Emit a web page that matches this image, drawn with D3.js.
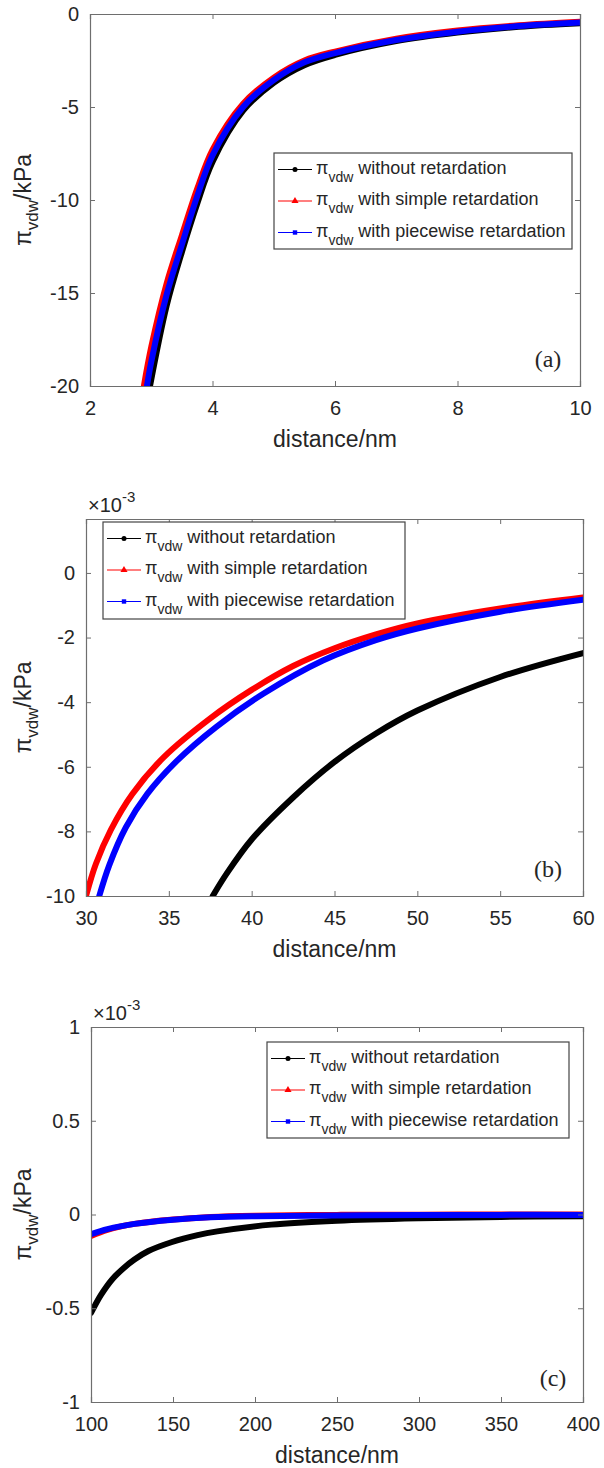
<!DOCTYPE html>
<html>
<head>
<meta charset="utf-8">
<script src="https://cdn.jsdelivr.net/npm/d3@7"></script>
<style>
  body { margin: 0; background: #fff; }
  text { font-family: Arial, "Liberation Sans", sans-serif; fill: #262626; }
</style>
</head>
<body>
<div id="chart"></div>
<script>
// ---- panel (a): distance 2-10 nm, kPa
var distA_none = [2.98, 3.25, 3.5, 3.75, 4, 4.5, 5, 5.5, 6, 7, 8, 9, 10];
var piA_none = [-20, -15.7, -12.8, -10.2, -7.95, -5.2, -3.7, -2.75, -2.2, -1.46, -1.0, -0.69, -0.5];
var distA_simple = [2.88, 3.0, 3.25, 3.5, 3.75, 4, 4.5, 5, 5.5, 6, 7, 8, 9, 10];
var piA_simple = [-20, -17.9, -14.5, -11.9, -9.4, -7.3, -4.82, -3.42, -2.5, -2.02, -1.33, -0.89, -0.61, -0.42];
var distA_piece = [2.93, 3.0, 3.25, 3.5, 3.75, 4, 4.5, 5, 5.5, 6, 7, 8, 9, 10];
var piA_piece = [-20, -18.7, -15.1, -12.4, -9.8, -7.6, -5.0, -3.55, -2.6, -2.1, -1.4, -0.95, -0.65, -0.46];
var xTicksA = [2, 4, 6, 8, 10];
var yTicksA = [0, -5, -10, -15, -20];

// ---- panel (b): distance 30-60 nm, x10^-3 kPa
var distB_none = [37.65, 38.5, 40, 42.5, 45, 47.5, 50, 55, 60];
var piB_none = [-10, -9.3, -8.25, -6.95, -5.85, -4.97, -4.26, -3.22, -2.48];
var distB_simple = [30.0, 30.6, 31.5, 32.8, 34.7, 37.5, 40, 42.5, 45, 47.5, 50, 55, 60];
var piB_simple = [-10, -9.0, -7.95, -6.84, -5.7, -4.5, -3.62, -2.88, -2.33, -1.9, -1.56, -1.1, -0.76];
var distB_piece = [30.8, 31.4, 32.4, 33.7, 35.5, 37.85, 40.7, 44.3, 47.5, 50, 55, 60];
var piB_piece = [-10, -9.05, -7.88, -6.84, -5.81, -4.77, -3.74, -2.71, -2.08, -1.72, -1.2, -0.83];
var xTicksB = [30, 35, 40, 45, 50, 55, 60];
var yTicksB = [0, -2, -4, -6, -8, -10];

// ---- panel (c): distance 100-400 nm, x10^-3 kPa
var distC_none = [100, 106, 113, 120, 126.5, 135, 149, 165, 177, 210, 250, 300, 350, 400];
var piC_none = [-0.525, -0.43, -0.345, -0.285, -0.24, -0.195, -0.148, -0.11, -0.09, -0.054, -0.033, -0.02, -0.013, -0.009];
var distC_ret = [100, 110, 126.5, 150, 173, 200, 250, 300, 350, 400];
var piC_simple = [-0.115, -0.082, -0.05, -0.027, -0.013, -0.006, -0.002, -0.001, 0, 0];
var piC_piece = [-0.105, -0.078, -0.05, -0.028, -0.015, -0.009, -0.005, -0.003, -0.002, -0.002];
var xTicksC = [100, 150, 200, 250, 300, 350, 400];
var yTicksC = [1, 0.5, 0, -0.5, -1];

var seriesNames = ["without retardation", "with simple retardation", "with piecewise retardation"];
var seriesColors = ["#000000", "#ff0000", "#0000ff"];
var seriesMarkers = ["circle", "triangle", "square"];

function zip(xs, ys) {
  return xs.map(function(x, i) { return { x: x, y: ys[i] }; });
}

var panels = [
  { id: "a", left: 90, right: 580, top: 14, bottom: 386, xDomain: [2, 10], yDomain: [-20, 0],
    xTicks: xTicksA, yTicks: yTicksA, exponent: false,
    legend: { x: 274, y: 153, w: 298, h: 96 }, tag: { x: 548, y: 367 },
    series: [zip(distA_none, piA_none), zip(distA_simple, piA_simple), zip(distA_piece, piA_piece)] },
  { id: "b", left: 86, right: 583, top: 519, bottom: 896, xDomain: [30, 60], yDomain: [-10, 1.67],
    xTicks: xTicksB, yTicks: yTicksB, exponent: true,
    legend: { x: 103, y: 522, w: 302, h: 97 }, tag: { x: 548, y: 877 },
    series: [zip(distB_none, piB_none), zip(distB_simple, piB_simple), zip(distB_piece, piB_piece)] },
  { id: "c", left: 91, right: 583, top: 1027, bottom: 1402, xDomain: [100, 400], yDomain: [-1, 1],
    xTicks: xTicksC, yTicks: yTicksC, exponent: true,
    legend: { x: 267, y: 1042, w: 302, h: 96 }, tag: { x: 553, y: 1386 },
    series: [zip(distC_none, piC_none), zip(distC_ret, piC_simple), zip(distC_ret, piC_piece)] }
];

var svg = d3.select("#chart").append("svg")
  .attr("width", 604)
  .attr("height", 1468);

var axisColor = "#6e6e6e";

function drawMarker(g, type, cx, cy, color) {
  if (type === "circle") {
    g.append("circle").attr("cx", cx).attr("cy", cy).attr("r", 2.5).attr("fill", color);
  } else if (type === "triangle") {
    g.append("path").attr("d", d3.symbol().type(d3.symbolTriangle).size(22)())
      .attr("transform", "translate(" + cx + "," + cy + ")").attr("fill", color);
  } else {
    g.append("rect").attr("x", cx - 2.2).attr("y", cy - 2.2).attr("width", 4.4).attr("height", 4.4).attr("fill", color);
  }
}

panels.forEach(function(p) {
  var x = d3.scaleLinear().domain(p.xDomain).range([p.left, p.right]);
  var y = d3.scaleLinear().domain(p.yDomain).range([p.bottom, p.top]);
  var g = svg.append("g").attr("class", "panel-" + p.id);

  // clip for thick curves
  g.append("clipPath").attr("id", "clip-" + p.id)
    .append("rect")
    .attr("x", p.left).attr("y", p.top)
    .attr("width", p.right - p.left).attr("height", p.bottom - p.top);

  var line = d3.line()
    .x(function(d) { return x(d.x); })
    .y(function(d) { return y(d.y); })
    .curve(d3.curveCatmullRom.alpha(0.5));

  var curves = g.append("g").attr("clip-path", "url(#clip-" + p.id + ")");
  p.series.forEach(function(s, i) {
    curves.append("path")
      .datum(s)
      .attr("d", line)
      .attr("fill", "none")
      .attr("stroke", seriesColors[i])
      .attr("stroke-width", 6)
      .attr("stroke-linecap", "round")
      .attr("stroke-linejoin", "round");
  });

  // axes: bottom/left with labels, top/right mirrored ticks only
  var xAxis = d3.axisBottom(x).tickValues(p.xTicks).tickSize(-5).tickPadding(15)
    .tickFormat(function(d) { return String(d); });
  var yAxis = d3.axisLeft(y).tickValues(p.yTicks).tickSize(-5).tickPadding(11)
    .tickFormat(function(d) { return String(d); });

  var gx = g.append("g").attr("transform", "translate(0," + p.bottom + ")").call(xAxis);
  var gy = g.append("g").attr("transform", "translate(" + p.left + ",0)").call(yAxis);
  var gxt = g.append("g").attr("transform", "translate(0," + p.top + ")")
    .call(d3.axisTop(x).tickValues(p.xTicks).tickSize(-5).tickFormat(""));
  var gyr = g.append("g").attr("transform", "translate(" + p.right + ",0)")
    .call(d3.axisRight(y).tickValues(p.yTicks).tickSize(-5).tickFormat(""));

  [gx, gy, gxt, gyr].forEach(function(a) {
    a.select(".domain").attr("stroke", axisColor).attr("stroke-width", 1.2);
    a.selectAll(".tick line").attr("stroke", axisColor);
    a.selectAll(".tick text")
      .attr("fill", "#262626")
      .style("font-size", "20px")
      .style("font-family", "Arial, 'Liberation Sans', sans-serif");
  });
  gx.selectAll(".tick text").attr("dy", "0.71em");

  // x title
  g.append("text")
    .attr("x", (p.left + p.right) / 2)
    .attr("y", p.bottom + 61)
    .attr("text-anchor", "middle")
    .style("font-size", "23px")
    .text("distance/nm");

  // y title
  var yt = g.append("text")
    .attr("transform", "translate(31," + ((p.top + p.bottom) / 2) + ") rotate(-90)")
    .attr("text-anchor", "middle")
    .style("font-size", "23px");
  yt.append("tspan").text("π");
  yt.append("tspan").attr("dy", 7).style("font-size", "17px").text("vdw");
  yt.append("tspan").attr("dy", -7).text("/kPa");

  // exponent
  if (p.exponent) {
    var ex = g.append("text")
      .attr("x", p.left + 2)
      .attr("y", p.top - 7)
      .style("font-size", "20px");
    ex.append("tspan").text("×10");
    ex.append("tspan").attr("dy", -10).style("font-size", "15px").text("-3");
  }

  // panel tag
  g.append("text")
    .attr("x", p.tag.x)
    .attr("y", p.tag.y)
    .attr("text-anchor", "middle")
    .style("font-family", "'Times New Roman', 'Liberation Serif', serif")
    .style("font-size", "24px")
    .text("(" + p.id + ")");

  // legend
  var L = p.legend;
  var lg = g.append("g").attr("class", "legend");
  lg.append("rect")
    .attr("x", L.x).attr("y", L.y).attr("width", L.w).attr("height", L.h)
    .attr("fill", "#fff").attr("stroke", "#444").attr("stroke-width", 1.2);
  seriesNames.forEach(function(name, i) {
    var ly = L.y + 16.5 + i * 31.5;
    lg.append("line")
      .attr("x1", L.x + 4).attr("x2", L.x + 38)
      .attr("y1", ly).attr("y2", ly)
      .attr("stroke", seriesColors[i]).attr("stroke-width", 1.2);
    drawMarker(lg, seriesMarkers[i], L.x + 21, ly, seriesColors[i]);
    var t = lg.append("text")
      .attr("x", L.x + 42)
      .attr("y", ly + 4)
      .style("font-size", "18px");
    t.append("tspan").text("π");
    t.append("tspan").attr("dy", 8).style("font-size", "14px").text("vdw");
    t.append("tspan").attr("dy", -8).text(" " + name);
  });
});
</script>
</body>
</html>
